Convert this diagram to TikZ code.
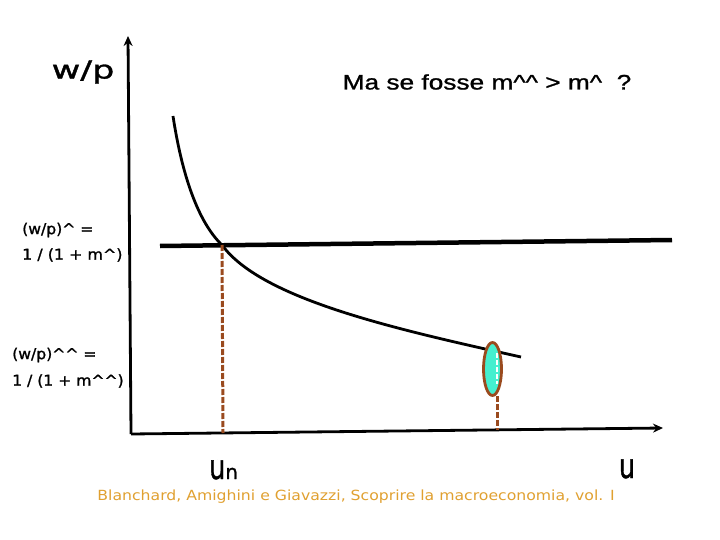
\documentclass[tikz,border=0pt]{standalone}
\usepackage{fontspec}
\setmainfont{DejaVu Sans}
\newfontfamily\heavyf[FakeBold=1.2]{DejaVu Sans}
\newfontfamily\arialf[FakeBold=1.0]{Liberation Sans}
\usetikzlibrary{arrows.meta,shapes.geometric}
\definecolor{brn}{HTML}{9A4A1E}
\definecolor{aqua}{HTML}{45EFCF}
\definecolor{cite}{HTML}{E0A030}
\newcommand{\hatc}{\textasciicircum}
\newcommand{\wx}[2]{\scalebox{#1}[1]{#2}}
\tikzset{
  axis/.style={line width=2.8pt,-{Stealth[length=10pt,width=9pt]}},
  guide/.style={brn,line width=3pt,dash pattern=on 6pt off 2pt},
  lbl/.style={font=\heavyf\fontsize{15}{18}\selectfont,align=left,inner sep=0pt},
}
\begin{document}
\begin{tikzpicture}[x=1pt,y=-1pt]
\useasboundingbox (0,0) rectangle (720,540);
% axes
\coordinate (o) at (131,434);
\coordinate (ytop) at (128,36);
\coordinate (xend) at (663,428);
\draw[axis] (o) -- (ytop);
\draw[axis] (o) -- (xend);
% horizontal line
\coordinate (h1) at (160,246);
\coordinate (h2) at (672,240);
\draw[line width=4.5pt] (h1) -- (h2);
% curve
\coordinate (c0) at (173,116);
\coordinate (cx) at (222,245);
\coordinate (c1) at (521,357);
\draw[line width=2.8pt] (c0) .. controls (182,175) and (198,222) .. (cx)
  .. controls (262,300) and (400,330) .. (c1);
% guides
\coordinate (g1b) at (223,433);
\draw[guide] (cx) -- (g1b);
\node[ellipse,draw=brn,fill=aqua,line width=2.8pt,minimum width=18pt,minimum height=53pt,inner sep=0pt] (ell) at (492.5,369) {};
\coordinate (g2t) at (497,396);
\coordinate (g2b) at (497,430);
\draw[guide] (g2t) -- (g2b);
\coordinate (w1) at (497,353);
\coordinate (w2) at (497,384);
\draw[white,line width=1.2pt,dash pattern=on 5pt off 2pt] (w1) -- (w2);
% texts
\node[inner sep=0pt] (wp) at (83,72) {\wx{1.4}{\heavyf\fontsize{25}{28}\selectfont w/p}};
\node[inner sep=0pt] (q) at (487,82) {\wx{1.25}{\arialf\fontsize{21}{24}\selectfont Ma se fosse m\hatc\hatc{} > m\hatc{}\ \ ?}};
\node[lbl,anchor=west] (l1a) at (22,230) {\wx{1.04}{(w/p)\hatc{} =}};
\node[lbl,anchor=west] (l1b) at (22,255) {\wx{1.06}{1 / (1 + m\hatc)}};
\node[lbl,anchor=west] (l2a) at (12,355) {\wx{1.04}{(w/p)\hatc\hatc{} =}};
\node[lbl,anchor=west] (l2b) at (12,381) {\wx{1.04}{1 / (1 + m\hatc\hatc)}};
\node[inner sep=0pt,anchor=base west] (un) at (209,479) {\heavyf\wx{0.75}{\fontsize{34}{36}\selectfont u}\fontsize{20}{22}\selectfont n};
\node[inner sep=0pt,anchor=base] (u) at (627,478) {\heavyf\wx{0.75}{\fontsize{34}{36}\selectfont u}};
\node[inner sep=0pt,text=cite] (cit) at (356,497) {\wx{1.12}{\fontsize{14}{16}\selectfont Blanchard, Amighini e Giavazzi, Scoprire la macroeconomia, vol. I}};
\end{tikzpicture}
\end{document}
